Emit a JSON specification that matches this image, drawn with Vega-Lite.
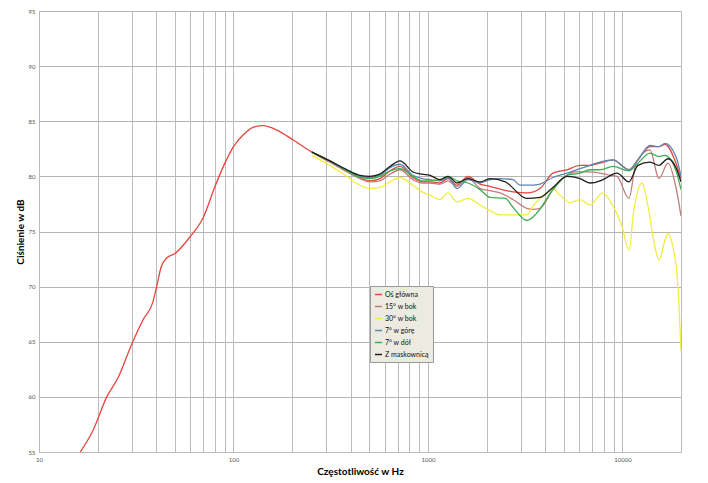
{
  "$schema": "https://vega.github.io/schema/vega-lite/v6.json",
  "autosize": "none",
  "width": 642,
  "height": 441,
  "padding": {"left": 39, "top": 11, "right": 27, "bottom": 31},
  "background": "white",
  "config": {
    "view": {"stroke": null},
    "font": "Lato"
  },
  "datasets": {
    "main": [
      {"s": "Oś główna", "f": 16.3, "db": 55.0},
      {"s": "Oś główna", "f": 19, "db": 57.0},
      {"s": "Oś główna", "f": 22.3, "db": 60.0},
      {"s": "Oś główna", "f": 25.6, "db": 61.8},
      {"s": "Oś główna", "f": 30, "db": 64.8},
      {"s": "Oś główna", "f": 34.3, "db": 67.0},
      {"s": "Oś główna", "f": 38.5, "db": 68.6},
      {"s": "Oś główna", "f": 40.5, "db": 70.2},
      {"s": "Oś główna", "f": 42.5, "db": 71.8},
      {"s": "Oś główna", "f": 45.4, "db": 72.6},
      {"s": "Oś główna", "f": 50, "db": 73.0},
      {"s": "Oś główna", "f": 59.7, "db": 74.5},
      {"s": "Oś główna", "f": 70, "db": 76.3},
      {"s": "Oś główna", "f": 80.4, "db": 79.1},
      {"s": "Oś główna", "f": 90.3, "db": 81.2},
      {"s": "Oś główna", "f": 100, "db": 82.7},
      {"s": "Oś główna", "f": 112, "db": 83.75},
      {"s": "Oś główna", "f": 126, "db": 84.45},
      {"s": "Oś główna", "f": 142, "db": 84.6},
      {"s": "Oś główna", "f": 167, "db": 84.2},
      {"s": "Oś główna", "f": 203, "db": 83.3},
      {"s": "Oś główna", "f": 253, "db": 82.2},
      {"s": "Oś główna", "f": 313, "db": 81.3},
      {"s": "Oś główna", "f": 383, "db": 80.5},
      {"s": "Oś główna", "f": 447, "db": 79.9},
      {"s": "Oś główna", "f": 503, "db": 79.6},
      {"s": "Oś główna", "f": 566, "db": 79.8},
      {"s": "Oś główna", "f": 638, "db": 80.5},
      {"s": "Oś główna", "f": 718, "db": 80.9},
      {"s": "Oś główna", "f": 837, "db": 79.9},
      {"s": "Oś główna", "f": 932, "db": 79.5},
      {"s": "Oś główna", "f": 1024, "db": 79.5},
      {"s": "Oś główna", "f": 1153, "db": 79.4},
      {"s": "Oś główna", "f": 1267, "db": 79.8},
      {"s": "Oś główna", "f": 1410, "db": 79.2},
      {"s": "Oś główna", "f": 1606, "db": 80.0},
      {"s": "Oś główna", "f": 1851, "db": 79.3},
      {"s": "Oś główna", "f": 2084, "db": 79.1},
      {"s": "Oś główna", "f": 2735, "db": 78.6},
      {"s": "Oś główna", "f": 3228, "db": 78.5},
      {"s": "Oś główna", "f": 3768, "db": 78.9},
      {"s": "Oś główna", "f": 4391, "db": 80.3},
      {"s": "Oś główna", "f": 5183, "db": 80.6},
      {"s": "Oś główna", "f": 6050, "db": 81.0},
      {"s": "Oś główna", "f": 6810, "db": 81.0},
      {"s": "Oś główna", "f": 7666, "db": 81.2},
      {"s": "Oś główna", "f": 8940, "db": 81.5},
      {"s": "Oś główna", "f": 10800, "db": 80.6},
      {"s": "Oś główna", "f": 12016, "db": 81.5},
      {"s": "Oś główna", "f": 13857, "db": 82.7},
      {"s": "Oś główna", "f": 15405, "db": 82.7},
      {"s": "Oś główna", "f": 16543, "db": 82.9},
      {"s": "Oś główna", "f": 18842, "db": 81.2},
      {"s": "Oś główna", "f": 20000, "db": 79.8},

      {"s": "15° w bok", "f": 253, "db": 82.2},
      {"s": "15° w bok", "f": 313, "db": 81.3},
      {"s": "15° w bok", "f": 383, "db": 80.4},
      {"s": "15° w bok", "f": 447, "db": 79.8},
      {"s": "15° w bok", "f": 503, "db": 79.5},
      {"s": "15° w bok", "f": 566, "db": 79.6},
      {"s": "15° w bok", "f": 638, "db": 80.2},
      {"s": "15° w bok", "f": 718, "db": 80.6},
      {"s": "15° w bok", "f": 837, "db": 79.7},
      {"s": "15° w bok", "f": 932, "db": 79.4},
      {"s": "15° w bok", "f": 1024, "db": 79.4},
      {"s": "15° w bok", "f": 1153, "db": 79.3},
      {"s": "15° w bok", "f": 1267, "db": 79.6},
      {"s": "15° w bok", "f": 1410, "db": 79.1},
      {"s": "15° w bok", "f": 1606, "db": 79.9},
      {"s": "15° w bok", "f": 1851, "db": 78.9},
      {"s": "15° w bok", "f": 2084, "db": 78.7},
      {"s": "15° w bok", "f": 2346, "db": 78.5},
      {"s": "15° w bok", "f": 2735, "db": 77.9},
      {"s": "15° w bok", "f": 3228, "db": 77.1},
      {"s": "15° w bok", "f": 3466, "db": 77.0},
      {"s": "15° w bok", "f": 3768, "db": 77.1},
      {"s": "15° w bok", "f": 4391, "db": 78.8},
      {"s": "15° w bok", "f": 5183, "db": 80.1},
      {"s": "15° w bok", "f": 5700, "db": 80.4},
      {"s": "15° w bok", "f": 6810, "db": 80.4},
      {"s": "15° w bok", "f": 7666, "db": 80.3},
      {"s": "15° w bok", "f": 8630, "db": 80.1},
      {"s": "15° w bok", "f": 9370, "db": 80.0},
      {"s": "15° w bok", "f": 10800, "db": 78.0},
      {"s": "15° w bok", "f": 11735, "db": 81.2},
      {"s": "15° w bok", "f": 13857, "db": 82.4},
      {"s": "15° w bok", "f": 15405, "db": 79.8},
      {"s": "15° w bok", "f": 17133, "db": 81.2},
      {"s": "15° w bok", "f": 18842, "db": 79.0},
      {"s": "15° w bok", "f": 20000, "db": 76.4},

      {"s": "30° w bok", "f": 253, "db": 81.9},
      {"s": "30° w bok", "f": 313, "db": 81.0},
      {"s": "30° w bok", "f": 383, "db": 80.0},
      {"s": "30° w bok", "f": 447, "db": 79.2},
      {"s": "30° w bok", "f": 503, "db": 78.9},
      {"s": "30° w bok", "f": 566, "db": 79.0},
      {"s": "30° w bok", "f": 638, "db": 79.5},
      {"s": "30° w bok", "f": 718, "db": 79.9},
      {"s": "30° w bok", "f": 837, "db": 79.2},
      {"s": "30° w bok", "f": 932, "db": 78.6},
      {"s": "30° w bok", "f": 1024, "db": 78.3},
      {"s": "30° w bok", "f": 1153, "db": 77.9},
      {"s": "30° w bok", "f": 1267, "db": 78.5},
      {"s": "30° w bok", "f": 1410, "db": 77.7},
      {"s": "30° w bok", "f": 1606, "db": 78.0},
      {"s": "30° w bok", "f": 1851, "db": 77.4},
      {"s": "30° w bok", "f": 2084, "db": 76.9},
      {"s": "30° w bok", "f": 2346, "db": 76.5},
      {"s": "30° w bok", "f": 2735, "db": 76.5},
      {"s": "30° w bok", "f": 3228, "db": 76.5},
      {"s": "30° w bok", "f": 3466, "db": 77.3},
      {"s": "30° w bok", "f": 4090, "db": 78.5},
      {"s": "30° w bok", "f": 4391, "db": 78.9},
      {"s": "30° w bok", "f": 4774, "db": 78.3},
      {"s": "30° w bok", "f": 5374, "db": 77.6},
      {"s": "30° w bok", "f": 6050, "db": 77.9},
      {"s": "30° w bok", "f": 6810, "db": 77.4},
      {"s": "30° w bok", "f": 7900, "db": 78.5},
      {"s": "30° w bok", "f": 8940, "db": 77.3},
      {"s": "30° w bok", "f": 9940, "db": 75.5},
      {"s": "30° w bok", "f": 10800, "db": 73.3},
      {"s": "30° w bok", "f": 11400, "db": 76.7},
      {"s": "30° w bok", "f": 12600, "db": 79.4},
      {"s": "30° w bok", "f": 13525, "db": 77.3},
      {"s": "30° w bok", "f": 14693, "db": 73.6},
      {"s": "30° w bok", "f": 15405, "db": 72.4},
      {"s": "30° w bok", "f": 16543, "db": 74.2},
      {"s": "30° w bok", "f": 17133, "db": 74.8},
      {"s": "30° w bok", "f": 18181, "db": 73.6},
      {"s": "30° w bok", "f": 19289, "db": 70.0},
      {"s": "30° w bok", "f": 20000, "db": 64.2},

      {"s": "7° w górę", "f": 253, "db": 82.2},
      {"s": "7° w górę", "f": 313, "db": 81.4},
      {"s": "7° w górę", "f": 383, "db": 80.6},
      {"s": "7° w górę", "f": 447, "db": 80.0},
      {"s": "7° w górę", "f": 503, "db": 79.9},
      {"s": "7° w górę", "f": 566, "db": 80.1},
      {"s": "7° w górę", "f": 638, "db": 80.8},
      {"s": "7° w górę", "f": 718, "db": 81.1},
      {"s": "7° w górę", "f": 837, "db": 80.1},
      {"s": "7° w górę", "f": 932, "db": 79.8},
      {"s": "7° w górę", "f": 1024, "db": 79.7},
      {"s": "7° w górę", "f": 1153, "db": 79.6},
      {"s": "7° w górę", "f": 1267, "db": 79.9},
      {"s": "7° w górę", "f": 1410, "db": 78.9},
      {"s": "7° w górę", "f": 1606, "db": 79.7},
      {"s": "7° w górę", "f": 1851, "db": 79.4},
      {"s": "7° w górę", "f": 2084, "db": 79.7},
      {"s": "7° w górę", "f": 2346, "db": 79.8},
      {"s": "7° w górę", "f": 2735, "db": 79.7},
      {"s": "7° w górę", "f": 2973, "db": 79.2},
      {"s": "7° w górę", "f": 3466, "db": 79.2},
      {"s": "7° w górę", "f": 3768, "db": 79.3},
      {"s": "7° w górę", "f": 4391, "db": 79.9},
      {"s": "7° w górę", "f": 5183, "db": 80.3},
      {"s": "7° w górę", "f": 6050, "db": 80.7},
      {"s": "7° w górę", "f": 6810, "db": 81.0},
      {"s": "7° w górę", "f": 7666, "db": 81.3},
      {"s": "7° w górę", "f": 8940, "db": 81.5},
      {"s": "7° w górę", "f": 10800, "db": 80.6},
      {"s": "7° w górę", "f": 12016, "db": 81.5},
      {"s": "7° w górę", "f": 13857, "db": 82.8},
      {"s": "7° w górę", "f": 15405, "db": 82.7},
      {"s": "7° w górę", "f": 16543, "db": 83.0},
      {"s": "7° w górę", "f": 18842, "db": 81.8},
      {"s": "7° w górę", "f": 20000, "db": 80.0},

      {"s": "7° w dół", "f": 253, "db": 82.2},
      {"s": "7° w dół", "f": 313, "db": 81.4},
      {"s": "7° w dół", "f": 383, "db": 80.5},
      {"s": "7° w dół", "f": 447, "db": 79.9},
      {"s": "7° w dół", "f": 503, "db": 79.8},
      {"s": "7° w dół", "f": 566, "db": 80.0},
      {"s": "7° w dół", "f": 638, "db": 80.5},
      {"s": "7° w dół", "f": 718, "db": 80.7},
      {"s": "7° w dół", "f": 837, "db": 80.0},
      {"s": "7° w dół", "f": 932, "db": 79.6},
      {"s": "7° w dół", "f": 1024, "db": 79.6},
      {"s": "7° w dół", "f": 1153, "db": 79.7},
      {"s": "7° w dół", "f": 1267, "db": 80.0},
      {"s": "7° w dół", "f": 1410, "db": 79.6},
      {"s": "7° w dół", "f": 1606, "db": 79.4},
      {"s": "7° w dół", "f": 1851, "db": 78.8},
      {"s": "7° w dół", "f": 2084, "db": 78.1},
      {"s": "7° w dół", "f": 2500, "db": 78.0},
      {"s": "7° w dół", "f": 2735, "db": 77.2},
      {"s": "7° w dół", "f": 3228, "db": 76.0},
      {"s": "7° w dół", "f": 3600, "db": 76.6},
      {"s": "7° w dół", "f": 4391, "db": 78.8},
      {"s": "7° w dół", "f": 5183, "db": 80.1},
      {"s": "7° w dół", "f": 6050, "db": 80.3},
      {"s": "7° w dół", "f": 6810, "db": 80.6},
      {"s": "7° w dół", "f": 7666, "db": 80.6},
      {"s": "7° w dół", "f": 8940, "db": 80.9},
      {"s": "7° w dół", "f": 10800, "db": 80.5},
      {"s": "7° w dół", "f": 12016, "db": 81.2},
      {"s": "7° w dół", "f": 13857, "db": 82.1},
      {"s": "7° w dół", "f": 15405, "db": 81.8},
      {"s": "7° w dół", "f": 16543, "db": 81.9},
      {"s": "7° w dół", "f": 18842, "db": 80.5},
      {"s": "7° w dół", "f": 20000, "db": 78.8},

      {"s": "Z maskownicą", "f": 253, "db": 82.2},
      {"s": "Z maskownicą", "f": 313, "db": 81.4},
      {"s": "Z maskownicą", "f": 383, "db": 80.6},
      {"s": "Z maskownicą", "f": 447, "db": 80.1},
      {"s": "Z maskownicą", "f": 503, "db": 80.0},
      {"s": "Z maskownicą", "f": 566, "db": 80.2},
      {"s": "Z maskownicą", "f": 638, "db": 80.9},
      {"s": "Z maskownicą", "f": 718, "db": 81.4},
      {"s": "Z maskownicą", "f": 837, "db": 80.4},
      {"s": "Z maskownicą", "f": 932, "db": 80.2},
      {"s": "Z maskownicą", "f": 1024, "db": 80.1},
      {"s": "Z maskownicą", "f": 1153, "db": 79.7},
      {"s": "Z maskownicą", "f": 1267, "db": 80.0},
      {"s": "Z maskownicą", "f": 1410, "db": 79.4},
      {"s": "Z maskownicą", "f": 1606, "db": 79.8},
      {"s": "Z maskownicą", "f": 1851, "db": 79.5},
      {"s": "Z maskownicą", "f": 2084, "db": 79.8},
      {"s": "Z maskownicą", "f": 2500, "db": 79.5},
      {"s": "Z maskownicą", "f": 3228, "db": 78.0},
      {"s": "Z maskownicą", "f": 3768, "db": 78.1},
      {"s": "Z maskownicą", "f": 4391, "db": 79.0},
      {"s": "Z maskownicą", "f": 5183, "db": 80.0},
      {"s": "Z maskownicą", "f": 6050, "db": 79.8},
      {"s": "Z maskownicą", "f": 6810, "db": 79.4},
      {"s": "Z maskownicą", "f": 7666, "db": 79.6},
      {"s": "Z maskownicą", "f": 8128, "db": 79.8},
      {"s": "Z maskownicą", "f": 9370, "db": 80.3},
      {"s": "Z maskownicą", "f": 10800, "db": 79.5},
      {"s": "Z maskownicą", "f": 12016, "db": 81.0},
      {"s": "Z maskownicą", "f": 13857, "db": 81.3},
      {"s": "Z maskownicą", "f": 15405, "db": 81.0},
      {"s": "Z maskownicą", "f": 17133, "db": 81.6},
      {"s": "Z maskownicą", "f": 18842, "db": 80.8},
      {"s": "Z maskownicą", "f": 20000, "db": 79.5}
    ]
  },
  "data": {"name": "main"},
  "mark": {"type": "line", "interpolate": "monotone", "strokeWidth": 1.3, "clip": true},
  "encoding": {
    "x": {
      "field": "f",
      "type": "quantitative",
      "scale": {"type": "log", "domain": [10, 20000], "nice": false},
      "axis": {
        "title": "Częstotliwość w Hz",
        "titleFont": "Lato",
        "titleFontSize": 10,
        "titleFontWeight": "bold",
        "titleColor": "#000",
        "titlePadding": 4,
        "values": [10,20,30,40,50,60,70,80,90,100,200,300,400,500,600,700,800,900,1000,2000,3000,4000,5000,6000,7000,8000,9000,10000,20000],
        "labelExpr": "datum.value == 10 || datum.value == 100 || datum.value == 1000 || datum.value == 10000 ? datum.value : ''",
        "labelFontSize": 6,
        "labelColor": "#555",
        "labelPadding": 4,
        "labelFlush": false,
        "ticks": false,
        "domain": true,
        "domainColor": "#bbb",
        "grid": true,
        "gridColor": "#bdbdbd",
        "gridWidth": 1
      }
    },
    "y": {
      "field": "db",
      "type": "quantitative",
      "scale": {"domain": [55, 95], "nice": false, "zero": false},
      "axis": {
        "title": "Ciśnienie w dB",
        "titleFont": "Lato",
        "titleFontSize": 10,
        "titleFontWeight": "bold",
        "titleColor": "#000",
        "titlePadding": 3,
        "values": [55,60,65,70,75,80,85,90,95],
        "labelFontSize": 6,
        "labelColor": "#555",
        "labelPadding": 4,
        "ticks": false,
        "domain": true,
        "domainColor": "#bbb",
        "grid": true,
        "gridColor": "#b5b5b5",
        "gridWidth": 1
      }
    },
    "color": {
      "field": "s",
      "type": "nominal",
      "scale": {
        "domain": ["Oś główna", "15° w bok", "30° w bok", "7° w górę", "7° w dół", "Z maskownicą"],
        "range": ["#e5463e", "#c27a7a", "#f0ee3e", "#5a86b4", "#3fae4f", "#1e1e1e"]
      },
      "legend": {
        "orient": "none",
        "legendX": 331,
        "legendY": 275,
        "title": null,
        "symbolType": "stroke",
        "symbolSize": 49,
        "symbolStrokeWidth": 1.5,
        "labelFontSize": 7,
        "labelFont": "Lato",
        "labelColor": "#111",
        "labelOffset": 2,
        "rowPadding": 4,
        "padding": 4,
        "fillColor": "#ecebe1",
        "strokeColor": "#9a9a9a",
        "labelLimit": 80
      }
    }
  }
}
